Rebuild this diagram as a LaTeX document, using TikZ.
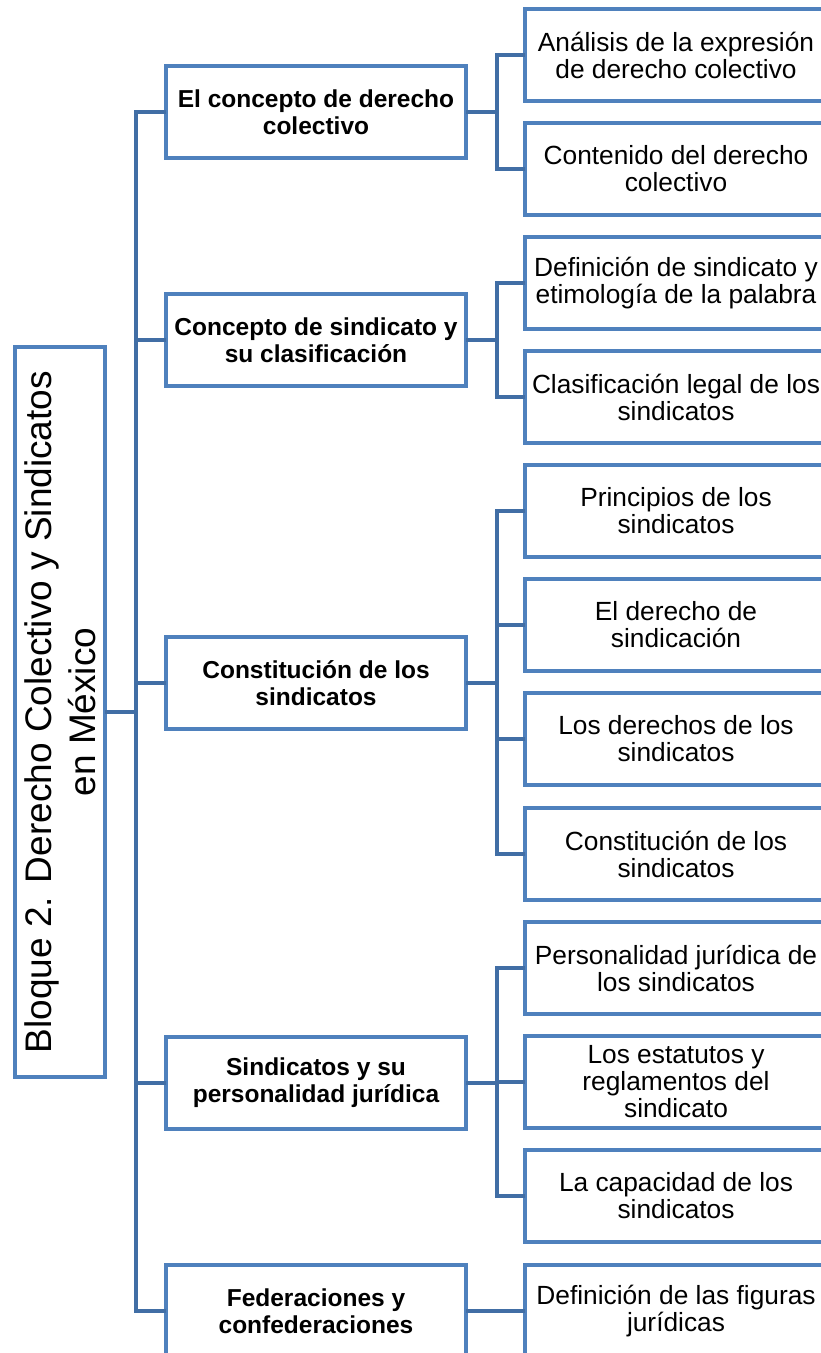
\documentclass[tikz,border=0pt]{standalone}
\usepackage{fontspec}
\setmainfont{Liberation Sans}
\definecolor{cajaazul}{RGB}{79,129,189}
\definecolor{lineaazul}{RGB}{65,110,165}

\begin{document}
\begin{tikzpicture}[x=1pt, y=1pt,
  caja/.style={draw=cajaazul, line width=4pt, fill=white, inner sep=0pt, align=center},
  tema/.style={caja, minimum width=300pt, minimum height=92pt, font=\bfseries\fontsize{24.5}{27}\selectfont},
  subtema/.style={caja, minimum width=302pt, minimum height=92pt, font=\fontsize{26.3}{27}\selectfont},
  enlace/.style={draw=lineaazul, line width=4pt, line cap=rect}]
\useasboundingbox (0,0) rectangle (821,-1353);

% Bloque (rotated box on the left)
\node[caja, rotate=90, minimum width=730pt, minimum height=90pt, font=\fontsize{37}{44}\selectfont] (bloque) at (60,-712)
  {Bloque 2. Derecho Colectivo y Sindicatos\\en México};
\coordinate (tronco) at (136,-712);

% Temas
\node[tema] (tema1) at (316,-112) {El concepto de derecho\\colectivo};
\node[tema] (tema2) at (316,-340) {Concepto de sindicato y\\su clasificación};
\node[tema] (tema3) at (316,-683) {Constitución de los\\sindicatos};
\node[tema] (tema4) at (316,-1083) {Sindicatos y su\\personalidad jurídica};
\node[tema] (tema5) at (316,-1311) {Federaciones y\\confederaciones};

% Subtemas
\node[subtema] (sub1) at (676,-55) {Análisis de la expresión\\de derecho colectivo};
\node[subtema] (sub2) at (676,-169) {Contenido del derecho\\colectivo};
\node[subtema] (sub3) at (676,-283) {Definición de sindicato y\\etimología de la palabra};
\node[subtema] (sub4) at (676,-397) {Clasificación legal de los\\sindicatos};
\node[subtema] (sub5) at (676,-511) {Principios de los\\sindicatos};
\node[subtema] (sub6) at (676,-625) {El derecho de\\sindicación};
\node[subtema] (sub7) at (676,-739) {Los derechos de los\\sindicatos};
\node[subtema] (sub8) at (676,-854) {Constitución de los\\sindicatos};
\node[subtema] (sub9) at (676,-968) {Personalidad jurídica de\\los sindicatos};
\node[subtema] (sub10) at (676,-1082) {Los estatutos y\\reglamentos del\\sindicato};
\node[subtema] (sub11) at (676,-1196) {La capacidad de los\\sindicatos};
\node[subtema] (sub12) at (676,-1311) {Definición de las figuras\\jurídicas};

% Conectores
\draw[enlace] (bloque.south) -- (tronco);
\foreach \t in {1,...,5}
  \draw[enlace] (tronco) |- (tema\t.west);
\foreach \t/\s in {1/1,1/2,2/3,2/4,3/5,3/6,3/7,3/8,4/9,4/10,4/11,5/12}
  \draw[enlace] (tema\t.east) -- ([xshift=29pt]tema\t.east) |- (sub\s.west);
\end{tikzpicture}
\end{document}
